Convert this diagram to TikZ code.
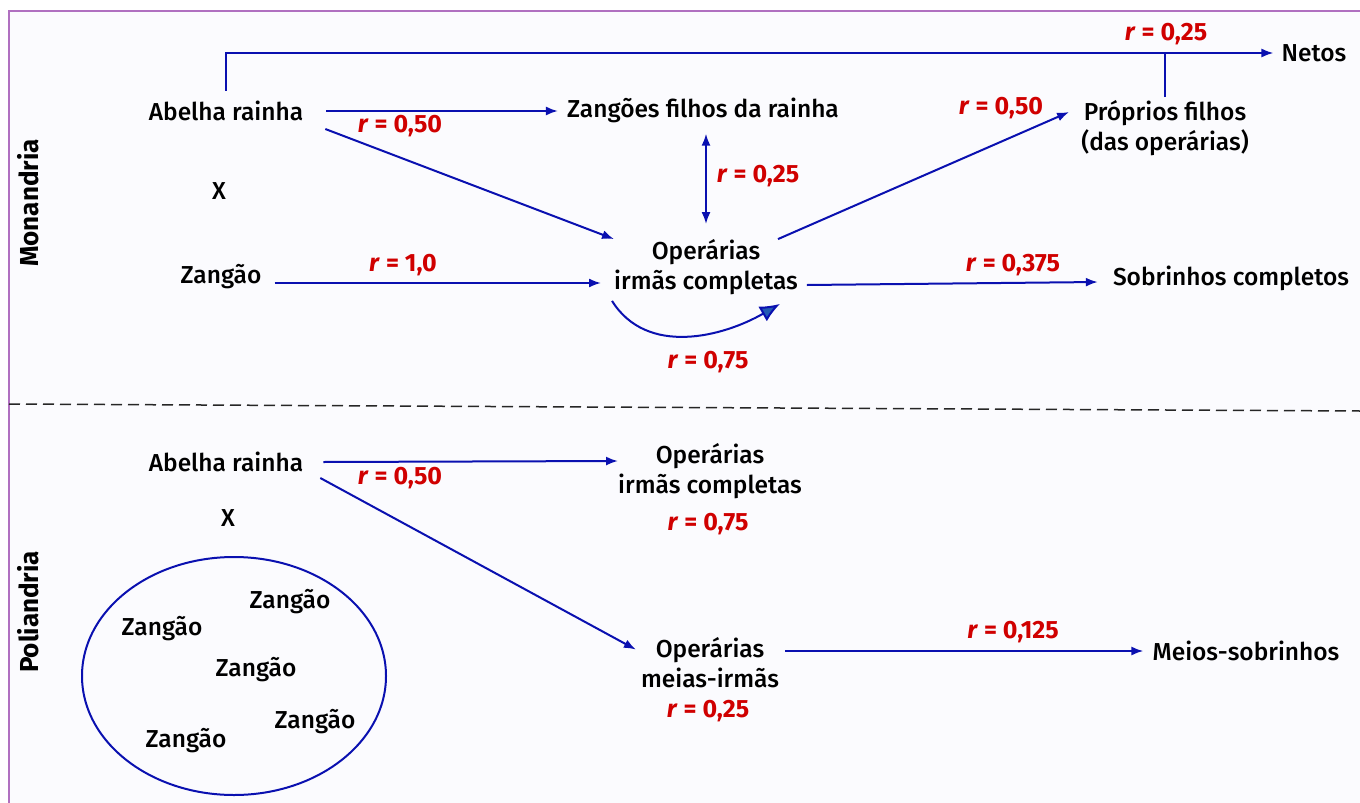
\documentclass[tikz,border=0pt]{standalone}
\usepackage{fontspec}
\setmainfont{Fira Sans}[UprightFont=* Medium, BoldFont=* Bold, ItalicFont=* Medium Italic, BoldItalicFont=* Bold Italic]
\usetikzlibrary{arrows.meta,shapes.geometric}
\definecolor{lblue}{RGB}{10,16,176}
\definecolor{rred}{RGB}{208,0,0}
\definecolor{bgc}{RGB}{251,251,254}
\definecolor{framec}{RGB}{176,112,192}
\definecolor{headfill}{RGB}{35,90,180}
\newcommand\rval[1]{\textit{r} = #1}
\begin{document}
\begin{tikzpicture}[x=1pt,y=-1pt,
  lbl/.style={inner sep=0pt, font=\fontsize{24.5}{30}\selectfont, align=center, text=black},
  rlab/.style={inner sep=0pt, font=\fontsize{25}{30}\selectfont\bfseries, text=rred},
  conn/.style={draw=lblue, line width=2pt, -{Latex[length=12pt,width=9pt]}},
  plainconn/.style={draw=lblue, line width=2pt},
  side/.style={inner sep=0pt, font=\fontsize{26}{30}\selectfont\bfseries, rotate=90}]
\useasboundingbox (0,0) rectangle (1360,803);
\fill[white] (0,0) rectangle (1360,803);
\fill[bgc] (9,11) rectangle (1360,803);
\draw[framec, line width=2pt] (9,803) -- (9,11) -- (1360,11);
\draw[black!85, line width=1.5pt, dash pattern=on 11pt off 6pt] (9,404) -- (1360,411);

% side labels
\node[side] (mon) at (28,203) {Monandria};
\node[side] (pol) at (28,612) {Poliandria};

% Monandria
\node[lbl] (qa1) at (226,111) {Abelha rainha};
\node[lbl] (x1) at (219,191) {X};
\node[lbl] (z1) at (221,277) {Zangão};
\node[lbl] (zf) at (703,110) {Zangões filhos da rainha};
\node[lbl] (op1) at (706,267) {Operárias\\irmãs completas};
\node[lbl] (pf) at (1165,128) {Próprios filhos\\(das operárias)};
\node[lbl] (netos) at (1314,53) {Netos};
\node[lbl] (sob) at (1231,278) {Sobrinhos completos};

\node[rlab] (rA) at (400,126) {\rval{0,50}};
\node[rlab] (rB) at (758,176) {\rval{0,25}};
\node[rlab] (rC) at (403,265) {\rval{1,0}};
\node[rlab] (rD) at (1001,108) {\rval{0,50}};
\node[rlab] (rE) at (1166,34) {\rval{0,25}};
\node[rlab] (rF) at (1013,265) {\rval{0,375}};
\node[rlab] (rG) at (708,362) {\rval{0,75}};

\draw[conn] ([xshift=23pt]qa1.east) -- ([xshift=-9pt]zf.west |- qa1.east);
\draw[conn] ([shift={(22pt,-18pt)}]qa1.east) -- (op1.north west);
\draw[conn] ([shift={(13pt,-6pt)}]z1.east) -- ([shift={(-13pt,-16pt)}]op1.west);
\draw[conn, {Latex[length=12pt,width=9pt]}-{Latex[length=12pt,width=9pt]}] ([yshift=-11pt]op1.north |- zf.south) -- ([yshift=15pt]op1.north);
\draw[conn] ([xshift=-20pt]op1.north east) -- ([shift={(-12pt,16pt)}]pf.west);
\draw[conn] ([shift={(9pt,-18pt)}]op1.east) -- ([shift={(-15pt,-4pt)}]sob.west);
\draw[draw=lblue, line width=2pt, -{Latex[length=20pt,width=17pt,fill=headfill]}]
  ([shift={(-2pt,-6pt)}]op1.south west) to[out=-58,in=-150] ([shift={(-18pt,-9pt)}]op1.south east);
\draw[conn] ([yshift=10pt]qa1.north) |- ([xshift=-8pt]netos.west);
\draw[plainconn] ([yshift=3pt]pf.north) -- (pf.north |- netos.west);

% Poliandria
\node[lbl] (qa2) at (226,462) {Abelha rainha};
\node[lbl] (x2) at (228,518) {X};
\node[draw=lblue, line width=2pt, ellipse, minimum width=304pt, minimum height=238pt] (grp) at (234,676) {};
\node[lbl] (za) at (290,602) {Zangão};
\node[lbl] (zb) at (162,629) {Zangão};
\node[lbl] (zc) at (256,670) {Zangão};
\node[lbl] (zd) at (315,722) {Zangão};
\node[lbl] (ze) at (186,741) {Zangão};
\node[lbl] (op2) at (710,471) {Operárias\\irmãs completas};
\node[lbl] (op3) at (710,663) {Operárias\\meias-irmãs};
\node[lbl] (ms) at (1246,651) {Meios-sobrinhos};
\node[rlab] (rH) at (400,478) {\rval{0,50}};
\node[rlab] (rI) at (708,524) {\rval{0,75}};
\node[rlab] (rJ) at (708,711) {\rval{0,25}};
\node[rlab] (rK) at (1013,632) {\rval{0,125}};

\draw[conn] ([xshift=20pt]qa2.east) -- ([yshift=10pt]op2.west);
\draw[conn] ([shift={(17pt,-16pt)}]qa2.east) -- ([shift={(-5pt,-12pt)}]op3.north west);
\draw[conn] ([shift={(6pt,12pt)}]op3.east) -- ([xshift=-9pt]ms.west);
\end{tikzpicture}
\end{document}
